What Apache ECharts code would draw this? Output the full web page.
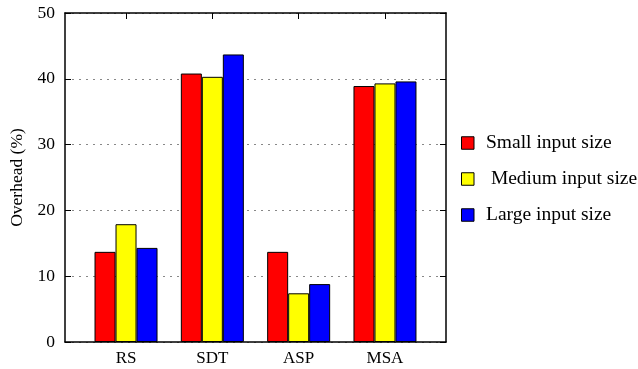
<!DOCTYPE html>
<html>
<head>
<meta charset="utf-8">
<script src="https://cdn.jsdelivr.net/npm/echarts@6/dist/echarts.min.js"></script>
<style>html,body{margin:0;padding:0;background:#fff;}#c{width:638px;height:369px;}</style>
</head>
<body>
<div id="c"></div>
<script>
const categories = ['RS', 'SDT', 'ASP', 'MSA'];
const seriesNames = ['Small input size', ' Medium input size', 'Large input size'];
const smallValues = [13.7, 40.8, 13.7, 38.9];
const mediumValues = [17.9, 40.3, 7.4, 39.3];
const largeValues = [14.3, 43.7, 8.8, 39.6];
const yTicks = [0, 10, 20, 30, 40, 50];
const colors = ['#ff0000', '#ffff00', '#0000ff'];

const font = 'Liberation Serif';
const catIdx = categories.map((c, i) => i);
const toPairs = arr => arr.map((v, i) => [i, v]);
const allValues = [smallValues, mediumValues, largeValues];

const xCommon = {
  type: 'value', min: -0.707, max: 3.707,
  axisLine: { show: true, onZero: false, lineStyle: { color: '#000', width: 1.5 } },
  splitLine: { show: false }
};
const yCommon = {
  type: 'value', min: yTicks[0], max: yTicks[yTicks.length - 1], interval: 10,
  axisLine: { show: true, onZero: false, lineStyle: { color: '#000', width: 1.5 } },
  axisTick: { show: true, inside: true, length: 6, lineStyle: { color: '#000' } }
};

const option = {
  backgroundColor: '#fff',
  animation: false,
  grid: { left: 65, right: 192, top: 13, bottom: 27 },
  legend: {
    orient: 'vertical', left: 456, top: 128,
    itemWidth: 12.5, itemHeight: 12.5, itemGap: 16,
    icon: 'rect',
    itemStyle: { borderColor: '#000', borderWidth: 1 },
    textStyle: { fontFamily: font, fontSize: 19.5, lineHeight: 12.5, color: '#000', padding: [0, 0, 0, 7] },
    data: seriesNames
  },
  xAxis: [
    Object.assign({}, xCommon, {
      position: 'bottom',
      axisTick: { show: true, inside: true, length: 6, customValues: catIdx, lineStyle: { color: '#000' } },
      axisLabel: { show: true, customValues: catIdx, margin: 8, fontFamily: font, fontSize: 17, color: '#000',
        formatter: v => categories[Math.round(v)] }
    }),
    Object.assign({}, xCommon, {
      position: 'top',
      axisTick: { show: true, inside: true, length: 6, customValues: catIdx, lineStyle: { color: '#000' } },
      axisLabel: { show: false }
    })
  ],
  yAxis: [
    Object.assign({}, yCommon, {
      position: 'left',
      name: 'Overhead (%)', nameLocation: 'middle', nameGap: 28,
      nameTextStyle: { fontFamily: font, fontSize: 17.5, color: '#000' },
      axisLabel: { margin: 10, fontFamily: font, fontSize: 17.5, color: '#000' },
      splitLine: { show: true, lineStyle: { color: '#888', type: [2, 5], width: 1.2 } }
    }),
    Object.assign({}, yCommon, {
      position: 'right',
      axisLabel: { show: false },
      splitLine: { show: false }
    })
  ],
  series: allValues.map((vals, k) => ({
    name: seriesNames[k],
    type: 'bar',
    xAxisIndex: 0, yAxisIndex: 0,
    barWidth: 21, barGap: '0%',
    itemStyle: { color: colors[k], borderColor: '#000', borderWidth: 1 },
    data: toPairs(vals)
  }))
};

const chart = echarts.init(document.getElementById('c'), null, { renderer: 'canvas' });
chart.setOption(option);
</script>
</body>
</html>
